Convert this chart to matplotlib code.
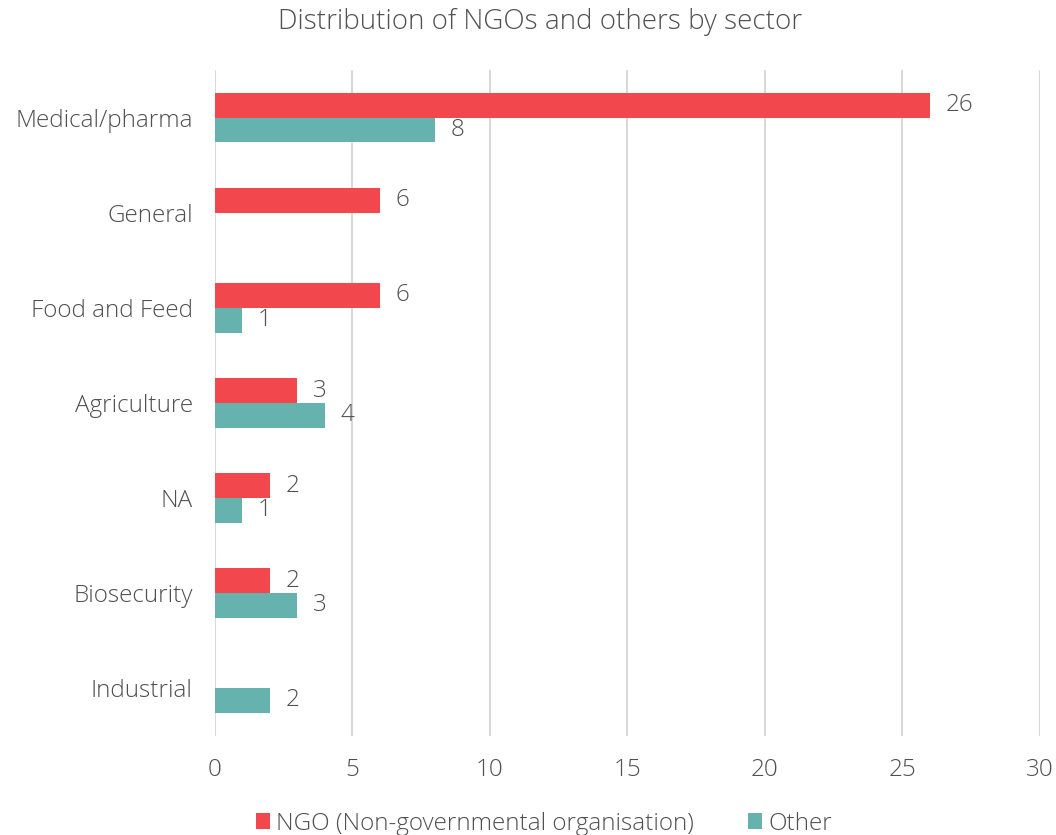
import matplotlib.pyplot as plt
import numpy as np

sectors = ["Medical/pharma", "General", "Food and Feed", "Agriculture",
           "NA", "Biosecurity", "Industrial"]
ngo = [26, 6, 6, 3, 2, 2, None]
other = [8, None, 1, 4, 1, 3, 2]
series_names = ["NGO (Non-governmental organisation)", "Other"]
colors = ["#F2484D", "#65B2AF"]
xticks = [0, 5, 10, 15, 20, 25, 30]

plt.rcParams['font.family'] = ['Open Sans', 'DejaVu Sans']
plt.rcParams['font.weight'] = 'light'
txt = "#505050"
fs = 17.5

fig = plt.figure(figsize=(10.56, 8.35), dpi=100)
ax = fig.add_axes([0.2036, 0.119, 0.7812, 0.797])

y = np.arange(len(sectors))
h = 0.26
for vals, off, col, name in [(ngo, -h / 2, colors[0], series_names[0]),
                             (other, h / 2, colors[1], series_names[1])]:
    v = np.array([np.nan if x is None else x for x in vals], dtype=float)
    ax.barh(y + off, v, height=h, color=col, label=name, zorder=3)
    for yi, x in zip(y, vals):
        if x is None:
            continue
        ax.annotate(str(x), (x, yi + off), xytext=(11, 0),
                    textcoords="offset points", va="center", ha="left",
                    fontsize=fs, color=txt)

ax.set_ylim(len(sectors) - 0.5, -0.5)
ax.set_xlim(0, 30)
ax.set_xticks(xticks)
ax.set_yticks(y)
ax.set_yticklabels(sectors)
ax.tick_params(length=0, labelsize=fs, colors=txt)
ax.tick_params(axis='x', pad=16)
ax.tick_params(axis='y', pad=16)
ax.grid(axis='x', color="#D9D9D9", linewidth=1.5, zorder=0)
for s in ax.spines.values():
    s.set_visible(False)

fig.suptitle("Distribution of NGOs and others by sector", fontsize=20,
             color=txt, fontweight='light', x=0.511, y=0.99, va="top")
fig.legend(loc="lower center", ncol=2, frameon=False, fontsize=fs,
           bbox_to_anchor=(0.515, -0.027), handlelength=0.6, handleheight=0.6,
           handletextpad=0.25, columnspacing=2.2, labelcolor=txt)

fig.savefig("out.png", dpi=100)
